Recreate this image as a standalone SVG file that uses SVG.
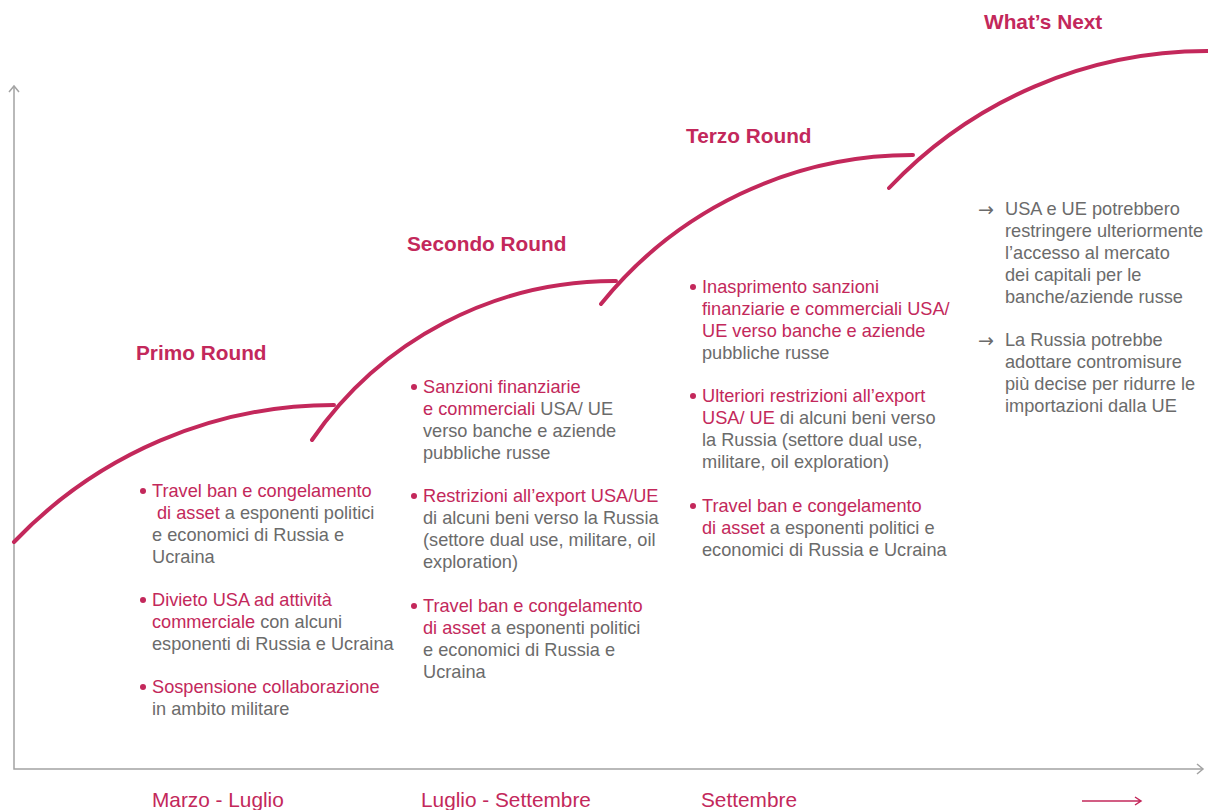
<svg xmlns="http://www.w3.org/2000/svg" width="1208" height="810" viewBox="0 0 1208 810">
<style>
.ax{stroke:#a3a3a3;stroke-width:1.5;fill:none}
.crv{stroke:#c3285b;stroke-width:4;fill:none;stroke-linecap:round}
.ttl{font-family:"Liberation Sans",Arial,sans-serif;font-size:20.8px;font-weight:bold;fill:#c3285b}
.b{font-family:"Liberation Sans",Arial,sans-serif;font-size:18.2px;fill:#6b6b6b}
.r{fill:#c3285b}
.arr{font-family:"DejaVu Sans",sans-serif;font-size:19px;fill:#6b6b6b}
.lab{font-family:"Liberation Sans",Arial,sans-serif;font-size:20.8px;fill:#c3285b}
.dot{fill:#c3285b}
</style>
<rect width="1208" height="810" fill="#fff"/>
<g id="axes">
<path class="ax" d="M14,86 V769 H1203"/>
<path class="ax" d="M9,92 L14,86 L19,92"/>
<path class="ax" d="M1197,764 L1203,769 L1197,774"/>
</g>
<g id="connectors">
<path class="crv" d="M14,542 A442,442 0 0 1 334,405"/>
<path class="crv" d="M312,440 A367,367 0 0 1 616,281"/>
<path class="crv" d="M601,304 A400,400 0 0 1 913,155"/>
<path class="crv" d="M889,188 A438,438 0 0 1 1208,51"/>
</g>
<g id="primo">
<text class="ttl" x="136" y="360">Primo Round</text>
<circle class="dot" cx="143" cy="491" r="3"/>
<text class="b" x="152" y="497"><tspan class="r">Travel ban e congelamento</tspan></text>
<text class="b" x="157" y="519"><tspan class="r">di asset</tspan> a esponenti politici</text>
<text class="b" x="152" y="541">e economici di Russia e</text>
<text class="b" x="152" y="563">Ucraina</text>
<circle class="dot" cx="143" cy="600" r="3"/>
<text class="b" x="152" y="606"><tspan class="r">Divieto USA ad attività</tspan></text>
<text class="b" x="152" y="628"><tspan class="r">commerciale</tspan> con alcuni</text>
<text class="b" x="152" y="650">esponenti di Russia e Ucraina</text>
<circle class="dot" cx="143" cy="687" r="3"/>
<text class="b" x="152" y="693"><tspan class="r">Sospensione collaborazione</tspan></text>
<text class="b" x="152" y="715">in ambito militare</text>
</g>
<g id="secondo">
<text class="ttl" x="407" y="251">Secondo Round</text>
<circle class="dot" cx="414" cy="387" r="3"/>
<text class="b" x="423" y="393"><tspan class="r">Sanzioni finanziarie</tspan></text>
<text class="b" x="423" y="415"><tspan class="r">e commerciali</tspan> USA/ UE</text>
<text class="b" x="423" y="437">verso banche e aziende</text>
<text class="b" x="423" y="459">pubbliche russe</text>
<circle class="dot" cx="414" cy="496" r="3"/>
<text class="b" x="423" y="502"><tspan class="r">Restrizioni all’export USA/UE</tspan></text>
<text class="b" x="423" y="524">di alcuni beni verso la Russia</text>
<text class="b" x="423" y="546">(settore dual use, militare, oil</text>
<text class="b" x="423" y="568">exploration)</text>
<circle class="dot" cx="414" cy="606" r="3"/>
<text class="b" x="423" y="612"><tspan class="r">Travel ban e congelamento</tspan></text>
<text class="b" x="423" y="634"><tspan class="r">di asset</tspan> a esponenti politici</text>
<text class="b" x="423" y="656">e economici di Russia e</text>
<text class="b" x="423" y="678">Ucraina</text>
</g>
<g id="terzo">
<text class="ttl" x="686" y="143">Terzo Round</text>
<circle class="dot" cx="693" cy="287" r="3"/>
<text class="b" x="702" y="293"><tspan class="r">Inasprimento sanzioni</tspan></text>
<text class="b" x="702" y="315"><tspan class="r">finanziarie e commerciali USA/</tspan></text>
<text class="b" x="702" y="337"><tspan class="r">UE verso banche e aziende</tspan></text>
<text class="b" x="702" y="359">pubbliche russe</text>
<circle class="dot" cx="693" cy="396" r="3"/>
<text class="b" x="702" y="402"><tspan class="r">Ulteriori restrizioni all’export</tspan></text>
<text class="b" x="702" y="424"><tspan class="r">USA/ UE</tspan> di alcuni beni verso</text>
<text class="b" x="702" y="446">la Russia (settore dual use,</text>
<text class="b" x="702" y="468">militare, oil exploration)</text>
<circle class="dot" cx="693" cy="506" r="3"/>
<text class="b" x="702" y="512"><tspan class="r">Travel ban e congelamento</tspan></text>
<text class="b" x="702" y="534"><tspan class="r">di asset</tspan> a esponenti politici e</text>
<text class="b" x="702" y="556">economici di Russia e Ucraina</text>
</g>
<g id="next">
<text class="ttl" x="984" y="29">What’s Next</text>
<text class="arr" x="978" y="216">→</text>
<text class="b" x="1005" y="215">USA e UE potrebbero</text>
<text class="b" x="1005" y="237">restringere ulteriormente</text>
<text class="b" x="1005" y="259">l’accesso al mercato</text>
<text class="b" x="1005" y="281">dei capitali per le</text>
<text class="b" x="1005" y="303">banche/aziende russe</text>
<text class="arr" x="978" y="347">→</text>
<text class="b" x="1005" y="346">La Russia potrebbe</text>
<text class="b" x="1005" y="368">adottare contromisure</text>
<text class="b" x="1005" y="390">più decise per ridurre le</text>
<text class="b" x="1005" y="412">importazioni dalla UE</text>
</g>
<g id="periods">
<text class="lab" x="152" y="807">Marzo - Luglio</text>
<text class="lab" x="421" y="807">Luglio - Settembre</text>
<text class="lab" x="701" y="807">Settembre</text>
<path d="M1082,801 H1141 M1135,797 L1141,801 L1135,805" stroke="#c3285b" stroke-width="1.5" fill="none"/>
</g>
</svg>
